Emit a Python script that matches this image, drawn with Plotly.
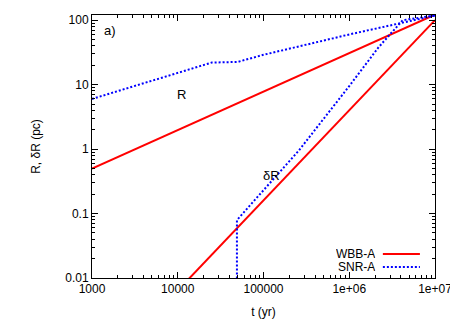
import plotly.graph_objects as go

# ── data (log-log) ────────────────────────────────────────────────────────────
t_wbb_r = [1e3, 1e7]
r_wbb = [0.5, 122]

t_wbb_dr = [1e4, 1e5, 1e6, 1e7]
dr_wbb = [0.0064, 0.16, 4.0, 100]

t_snr_r = [1e3, 25000, 50000, 1e5, 1e6, 1e7]
r_snr = [6.0, 22, 22.5, 29, 60, 118]

t_snr_dr = [49000, 49000, 1e5, 2.6e5, 1e6, 2.2e6, 4.2e6, 1e7]
dr_snr = [0.001, 0.079, 0.23, 0.96, 9.5, 38, 100, 118]

x_ticks = [1e3, 1e4, 1e5, 1e6, 1e7]
x_labels = ["1000", "10000", "100000", "1e+06", "1e+07"]
y_ticks = [0.01, 0.1, 1, 10, 100]
y_labels = ["0.01", "0.1", "1", "10", "100"]

RED = "#ff0000"
BLUE = "#0000ff"
DOT = "2px,2px"
FONT = "Liberation Sans, Arial, sans-serif"


def minor_vals(lo, hi):
    vals = []
    d = lo
    while d < hi:
        vals += [d * k for k in range(2, 10)]
        d *= 10
    return vals


fig = go.Figure()

fig.add_trace(go.Scatter(x=t_wbb_r, y=r_wbb, mode="lines",
                         line=dict(color=RED, width=2)))
fig.add_trace(go.Scatter(x=t_wbb_dr, y=dr_wbb, mode="lines",
                         line=dict(color=RED, width=2)))
fig.add_trace(go.Scatter(x=t_snr_r, y=r_snr, mode="lines",
                         line=dict(color=BLUE, width=2, dash=DOT)))
fig.add_trace(go.Scatter(x=t_snr_dr, y=dr_snr, mode="lines",
                         line=dict(color=BLUE, width=2, dash=DOT)))

axis_common = dict(
    type="log", ticks="inside", ticklen=6, tickwidth=1, tickcolor="black",
    mirror="allticks", showline=True, linecolor="black", linewidth=1,
    showgrid=False, zeroline=False, tickmode="array", automargin=False,
    tickfont=dict(family=FONT, size=12, color="black"),
)

fig.update_xaxes(
    **axis_common, range=[3, 7], tickvals=x_ticks, ticktext=x_labels,
    minor=dict(tickmode="array", tickvals=minor_vals(1e3, 1e7),
               ticks="inside", ticklen=3, tickcolor="black", showgrid=False),
    title=dict(text="t (yr)", font=dict(family=FONT, size=12, color="black"),
               standoff=12),
)
fig.update_yaxes(
    **axis_common, range=[-2, 2.08], tickvals=y_ticks, ticktext=y_labels,
    minor=dict(tickmode="array", tickvals=minor_vals(1e-2, 1e2),
               ticks="inside", ticklen=3, tickcolor="black", showgrid=False),
    title=dict(text="R, δR (pc)", font=dict(family=FONT, size=12, color="black"),
               standoff=22),
)

# in-plot labels
labels = [("a)", 0.03, 0.94, "left"), ("R", 0.262, 0.696, "center"),
          ("δR", 0.522, 0.388, "center")]
for txt, x, y, anc in labels:
    fig.add_annotation(text=txt, x=x, y=y, xref="paper", yref="paper",
                       xanchor=anc, yanchor="middle", showarrow=False,
                       font=dict(family=FONT, size=13, color="black"))

# gnuplot-style key: text then sample
for name, color, dash, y in [("WBB-A", RED, "solid", 0.091),
                             ("SNR-A", BLUE, DOT, 0.042)]:
    fig.add_annotation(text=name, x=0.828, y=y, xref="paper", yref="paper",
                       xanchor="right", yanchor="middle", showarrow=False,
                       height=12, borderpad=0,
                       font=dict(family=FONT, size=12, color="black"))
    fig.add_shape(type="line", xref="paper", yref="paper",
                  x0=0.848, x1=0.956, y0=y, y1=y,
                  line=dict(color=color, width=2, dash=dash))

# page body has an 8px margin, so the figure is a bit smaller than the window
fig.update_layout(
    width=450, height=312,
    margin=dict(l=84, r=23, t=7, b=42),
    paper_bgcolor="white", plot_bgcolor="white",
    showlegend=False,
    font=dict(family=FONT, size=12, color="black"),
)

fig.write_html("out.html")
